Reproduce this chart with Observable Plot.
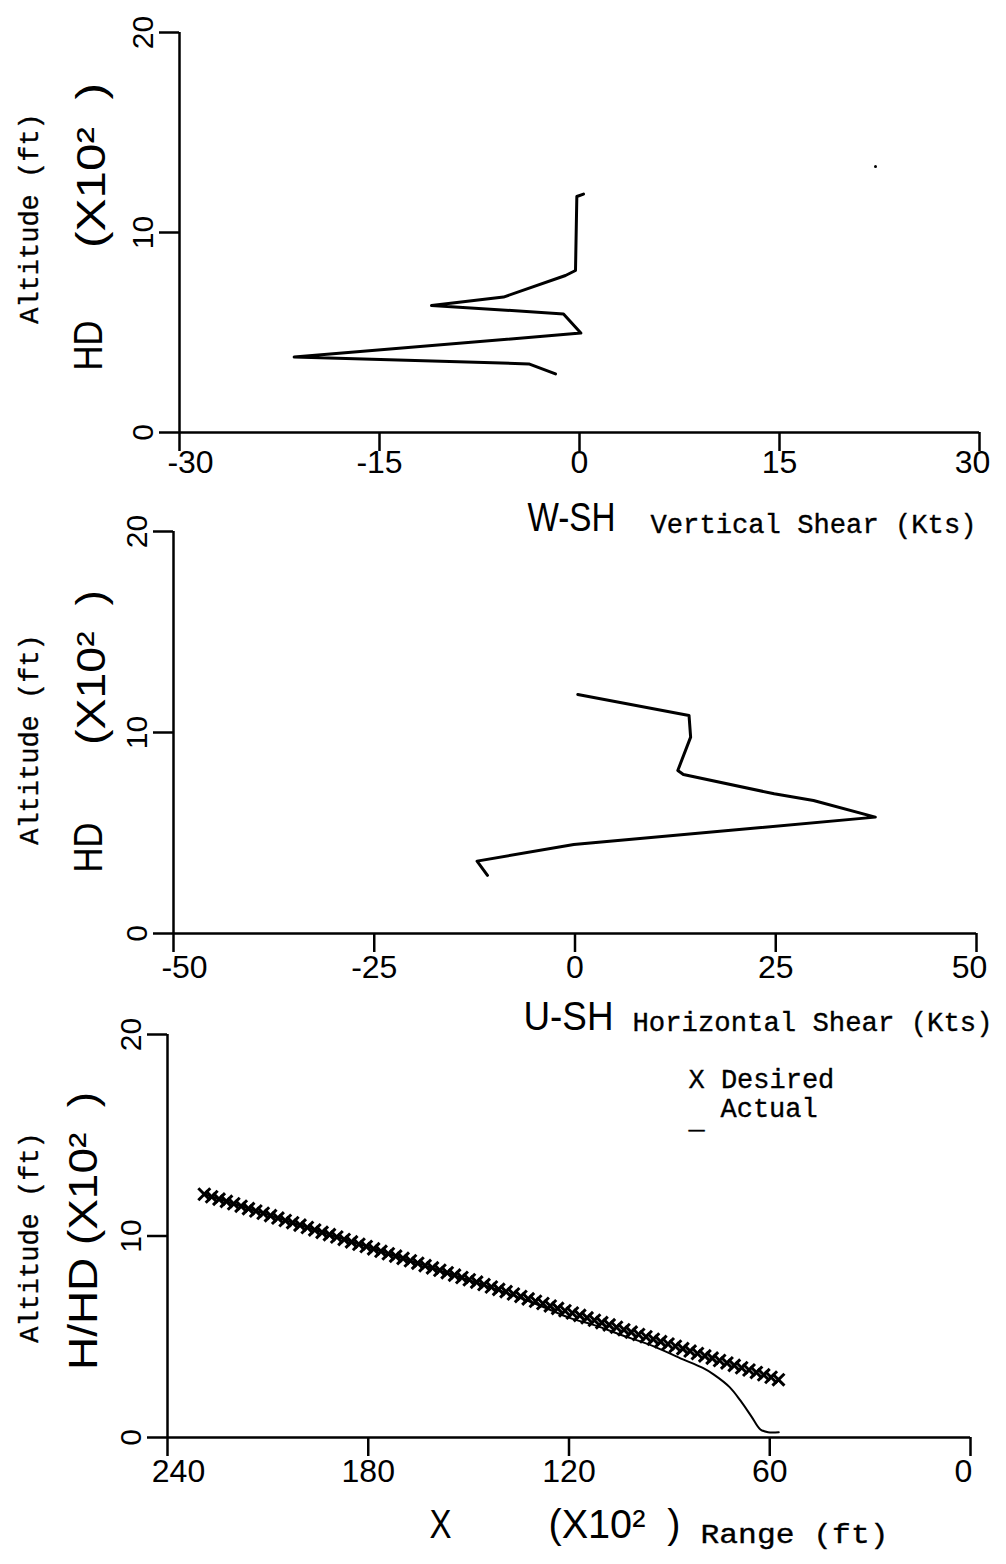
<!DOCTYPE html>
<html><head><meta charset="utf-8">
<script src="https://cdn.jsdelivr.net/npm/d3@7"></script>
<script src="https://cdn.jsdelivr.net/npm/@observablehq/plot@0.6"></script>
<style>
body{margin:0;background:#fff;}
#wrap{position:relative;width:1006px;height:1564px;overflow:hidden;}
#wrap svg{position:absolute;left:0;}
</style></head><body><div id="wrap"></div>
<script>
// ---------- data ----------
// Panel 1: vertical shear W-SH (kts) vs altitude HD (x100 ft)
const wshKts = [0.3, -0.2, -0.3, -1.05, -5.7, -11.1, -1.2, 0.1, -21.4, -3.8, -1.8];
const wshAlt = [11.92, 11.8, 8.1, 7.85, 6.77, 6.35, 5.93, 4.97, 3.77, 3.43, 2.93];
const speckX = [22.2];
const speckY = [13.3];
// Panel 2: horizontal shear U-SH (kts) vs altitude HD (x100 ft)
const ushKts = [0.35, 14.2, 14.4, 12.8, 13.5, 24.8, 29.7, 37.4, -0.15, -12.2, -10.9];
const ushAlt = [11.89, 10.85, 9.77, 8.11, 7.91, 6.95, 6.62, 5.79, 4.43, 3.6, 2.89];
// Panel 3: desired (X markers) and actual altitude vs range (x100 ft)
const desiredRange = [229.0, 226.8, 224.6, 222.4, 220.2, 218.0, 215.8, 213.6, 211.4, 209.2, 207.0, 204.8, 202.6, 200.4, 198.2, 196.0, 193.8, 191.6, 189.4, 187.2, 185.0, 182.8, 180.6, 178.4, 176.2, 174.0, 171.8, 169.6, 167.4, 165.2, 163.0, 160.8, 158.6, 156.4, 154.2, 152.0, 149.8, 147.6, 145.4, 143.2, 141.0, 138.8, 136.6, 134.4, 132.2, 130.0, 127.8, 125.6, 123.4, 121.2, 119.0, 116.8, 114.6, 112.4, 110.2, 108.0, 105.8, 103.6, 101.4, 99.2, 97.0, 94.8, 92.6, 90.4, 88.2, 86.0, 83.8, 81.6, 79.4, 77.2, 75.0, 72.8, 70.6, 68.4, 66.2, 64.0, 61.8, 59.6, 57.4];
const desiredAlt = [12.07, 11.95, 11.83, 11.72, 11.60, 11.48, 11.36, 11.24, 11.13, 11.01, 10.89, 10.77, 10.66, 10.54, 10.42, 10.30, 10.18, 10.07, 9.95, 9.83, 9.71, 9.59, 9.48, 9.36, 9.24, 9.12, 9.00, 8.89, 8.77, 8.65, 8.53, 8.42, 8.30, 8.18, 8.06, 7.94, 7.83, 7.71, 7.59, 7.47, 7.35, 7.24, 7.12, 7.00, 6.88, 6.76, 6.65, 6.53, 6.41, 6.29, 6.18, 6.06, 5.94, 5.82, 5.70, 5.59, 5.47, 5.35, 5.23, 5.11, 5.00, 4.88, 4.76, 4.64, 4.53, 4.41, 4.29, 4.17, 4.05, 3.94, 3.82, 3.70, 3.58, 3.46, 3.35, 3.23, 3.11, 2.99, 2.87];
const actualRange = [229, 200, 170, 140, 128, 120, 112, 104.6, 95, 86.7, 80, 76.7, 72, 68.8, 65.5, 62.8, 60.5, 57.3];
const actualAlt = [12.07, 10.52, 8.91, 7.25, 6.5, 5.95, 5.55, 5.1, 4.55, 3.93, 3.45, 3.12, 2.5, 1.84, 1.05, 0.4, 0.26, 0.26];
// ticks and tick labels
const altTicks = [0, 10, 20];
const altTickLabels = ["0", "10", "20"];
const wTicks = [-30, -15, 0, 15, 30];
const wTickLabels = ["-30", "-15", "0", "15", "30"];
const uTicks = [-50, -25, 0, 25, 50];
const uTickLabels = ["-50", "-25", "0", "25", "50"];
const rTicks = [240, 180, 120, 60, 0];
const rTickLabels = ["240", "180", "120", "60", "0"];

// ---------- helpers ----------
const SANS = "'Liberation Sans', Arial, sans-serif";
const MONO = "'Liberation Mono', 'Courier New', monospace";
const AX = 2.5;
let fits = {};
function label(str, o) {
  if (o.len) fits[str] = o.len;
  const opts = {
    text: d => d,
    frameAnchor: o.anchor,
    dx: o.dx, dy: o.dy,
    rotate: o.rotate || 0,
    textAnchor: o.textAnchor || "middle",
    fontFamily: o.mono ? MONO : SANS,
    fontSize: o.size,
    fill: "black"
  };
  if (o.mono) { opts.stroke = "black"; opts.strokeWidth = 0.35; }
  return Plot.text([str], opts);
}
function tickText(ticks, labels, axis, o) {
  const data = ticks.map((t, i) => ({t, s: labels[i]}));
  if (axis === "x") {
    const base = {x: "t", text: "s", frameAnchor: "bottom", dy: o.dy, fontFamily: SANS, fontSize: o.size, fill: "black"};
    const n = data.length;
    return [
      Plot.text(data.slice(0, 1), {...base, dx: 11}),
      Plot.text(data.slice(1, n - 1), {...base, dx: 0}),
      Plot.text(data.slice(n - 1), {...base, dx: -7})
    ];
  }
  return Plot.text(data, {y: "t", text: "s", frameAnchor: "left", dx: o.dx, dy: o.dy || 0, rotate: -90, textAnchor: "middle", fontFamily: SANS, fontSize: o.size, fill: "black"});
}
function axes(xd, xt) {
  return [
    Plot.ruleX([xd[0]], {strokeWidth: AX}),
    Plot.ruleY([0], {strokeWidth: AX}),
    Plot.axisY({ticks: altTicks, tickSize: 20, tickFormat: () => "", strokeWidth: AX, label: null}),
    Plot.axisX({ticks: xt, tickSize: 19, tickFormat: () => "", strokeWidth: AX, label: null})
  ];
}
function finish(svg, top) {
  svg.style.top = top + "px";
  const f = fits;
  d3.select(svg).selectAll("text").each(function () {
    const s = this.textContent;
    if (f[s]) d3.select(this).attr("textLength", f[s]).attr("lengthAdjust", "spacingAndGlyphs");
  });
  fits = {};
  document.getElementById("wrap").appendChild(svg);
}
const common = {width: 1006, style: {background: "transparent", overflow: "visible"}};

// ---------- panel 1 ----------
const p1 = Plot.plot({
  ...common, height: 500,
  marginLeft: 179, marginRight: 27, marginTop: 32, marginBottom: 68,
  x: {domain: [-30, 30]}, y: {domain: [0, 20]},
  marks: [
    ...axes([-30, 30], wTicks),
    Plot.line(wshKts.map((v, i) => ({x: v, y: wshAlt[i]})), {x: "x", y: "y", strokeWidth: 3, strokeLinejoin: "round"}),
    Plot.dot(speckX.map((v, i) => ({x: v, y: speckY[i]})), {x: "x", y: "y", r: 1.5, fill: "black"}),
    tickText(wTicks, wTickLabels, "x", {dy: 40, size: 32}),
    tickText(altTicks, altTickLabels, "y", {dx: -36, size: 30}),
    label("Altitude (ft)", {anchor: "left", dx: -150, dy: -14, rotate: -90, mono: true, size: 27}),
    label("(X10²  )", {anchor: "left", dx: -87, dy: -67, rotate: -90, size: 40, len: 165}),
    label("HD", {anchor: "left", dx: -90, dy: 113, rotate: -90, size: 40, len: 50}),
    label("W-SH", {anchor: "bottom", dx: -52, dy: 98, textAnchor: "start", size: 40, len: 88}),
    label("Vertical Shear (Kts)", {anchor: "bottom", dx: 71, dy: 100, textAnchor: "start", mono: true, size: 27, len: 326})
  ]
});
finish(p1, 0);

// ---------- panel 2 ----------
const p2 = Plot.plot({
  ...common, height: 500,
  marginLeft: 173, marginRight: 30, marginTop: 31, marginBottom: 67,
  x: {domain: [-50, 50]}, y: {domain: [0, 20]},
  marks: [
    ...axes([-50, 50], uTicks),
    Plot.line(ushKts.map((v, i) => ({x: v, y: ushAlt[i]})), {x: "x", y: "y", strokeWidth: 3, strokeLinejoin: "round"}),
    tickText(uTicks, uTickLabels, "x", {dy: 44, size: 32}),
    tickText(altTicks, altTickLabels, "y", {dx: -36, size: 30}),
    label("Altitude (ft)", {anchor: "left", dx: -144, dy: 7, rotate: -90, mono: true, size: 27}),
    label("(X10²  )", {anchor: "left", dx: -81, dy: -65, rotate: -90, size: 40, len: 155}),
    label("HD", {anchor: "left", dx: -84, dy: 115, rotate: -90, size: 40, len: 50}),
    label("U-SH", {anchor: "bottom", dx: -51.5, dy: 96, textAnchor: "start", size: 40, len: 90}),
    label("Horizontal Shear (Kts)", {anchor: "bottom", dx: 57.5, dy: 97, textAnchor: "start", mono: true, size: 27, len: 360})
  ]
});
finish(p2, 500);

// ---------- panel 3 ----------
const p3 = Plot.plot({
  ...common, height: 564,
  marginLeft: 167, marginRight: 36, marginTop: 34, marginBottom: 127,
  x: {domain: [240, 0]}, y: {domain: [0, 20]},
  marks: [
    ...axes([240, 0], rTicks),
    Plot.line(actualRange.map((v, i) => ({x: v, y: actualAlt[i]})), {x: "x", y: "y", strokeWidth: 2, curve: "catmull-rom"}),
    Plot.dot(desiredRange.map((v, i) => ({x: v, y: desiredAlt[i]})), {x: "x", y: "y", symbol: "times", r: 5.5, stroke: "black", strokeWidth: 3}),
    tickText(rTicks, rTickLabels, "x", {dy: 44, size: 32}),
    tickText(altTicks, altTickLabels, "y", {dx: -36, size: 30}),
    label("Altitude (ft)", {anchor: "left", dx: -138, dy: 1.5, rotate: -90, mono: true, size: 27}),
    label("H/HD (X10²  )", {anchor: "left", dx: -83, dy: -5, rotate: -90, size: 40, len: 278}),
    label("X", {anchor: "bottom", dx: -128.5, dy: 100, size: 40, len: 22}),
    label("(X10²  )", {anchor: "bottom", dx: -20.5, dy: 100, textAnchor: "start", size: 40, len: 132}),
    label("Range (ft)", {anchor: "bottom", dx: 131.5, dy: 105, textAnchor: "start", mono: true, size: 27, len: 188}),
    label("X Desired", {anchor: "top-left", dx: 521, dy: 34, textAnchor: "start", mono: true, size: 27}),
    label("Actual", {anchor: "top-left", dx: 553, dy: 63, textAnchor: "start", mono: true, size: 27}),
    label("_", {anchor: "top-left", dx: 521, dy: 74, textAnchor: "start", mono: true, size: 27})
  ]
});
finish(p3, 1000);
</script></body></html>
